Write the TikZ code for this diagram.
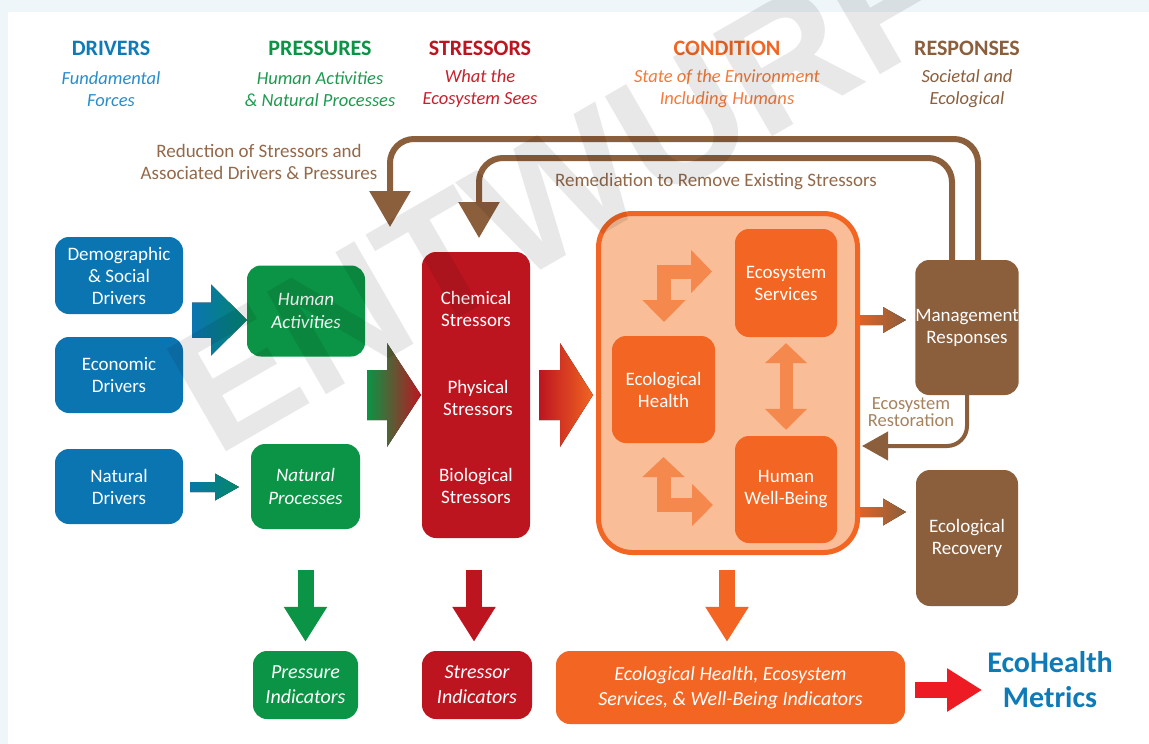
\documentclass[tikz,border=0pt]{standalone}
\usepackage{fontspec}
\setmainfont{Carlito}
\newfontfamily\markfont{Liberation Sans}
\usepackage{tikz}
\usetikzlibrary{arrows.meta,calc}
\usepackage{xcolor}

\definecolor{framebg}{HTML}{EEF6FA}
\definecolor{drvblue}{HTML}{0B75B1}
\definecolor{hdblue}{HTML}{0E7BB8}
\definecolor{subblue}{HTML}{2A8DCB}
\definecolor{prsgreen}{HTML}{0B9445}
\definecolor{subgreen}{HTML}{1E9A50}
\definecolor{strred}{HTML}{BD1520}
\definecolor{subred}{HTML}{C8202E}
\definecolor{cndorange}{HTML}{F26522}
\definecolor{suborange}{HTML}{F47A3A}
\definecolor{cndlight}{HTML}{F9BD98}
\definecolor{cndarrow}{HTML}{F5884C}
\definecolor{rspbrown}{HTML}{8B5E3C}
\definecolor{lblbrown}{HTML}{94694A}
\definecolor{rstbrown}{HTML}{A5835F}
\definecolor{metred}{HTML}{ED1C24}

% fat block arrow: style, from, tip, shaft half, head half, head length
\newcommand{\fatarrow}[6]{%
  \fill[#1] let \p1=(#2), \p2=(#3) in
    (\x1,\y2+#4) -- (\x2-#6,\y2+#4) -- (\x2-#6,\y2+#5) -- (\x2,\y2)
    -- (\x2-#6,\y2-#5) -- (\x2-#6,\y2-#4) -- (\x1,\y2-#4) -- cycle;}

\tikzset{
  box/.style={rounded corners=14pt, inner sep=0pt, align=center, text=white,
    font=\fontsize{19}{22}\selectfont},
  drvbox/.style={box, fill=drvblue, minimum width=128pt},
  prsbox/.style={box, fill=prsgreen, font=\fontsize{19}{23}\selectfont\itshape},
  cndbox/.style={box, fill=cndorange, minimum width=102pt, minimum height=107pt},
  rspbox/.style={box, fill=rspbrown, minimum width=102pt, minimum height=135pt},
  indbox/.style={box, minimum height=68pt, font=\fontsize{20}{25}\selectfont\itshape},
  strtext/.style={text=white, align=center, font=\fontsize{19}{22}\selectfont},
  head/.style={font=\fontsize{22}{24}\selectfont\bfseries},
  sub/.style={align=center, font=\fontsize{18.5}{22}\selectfont\itshape},
  fback/.style={rspbrown, line width=6pt, rounded corners=24pt,
    -{Triangle[length=36pt,width=40pt]}},
  cndflow/.style={cndarrow, line width=14pt},
  dnarrow/.style={line width=16pt, -{Triangle[length=35pt,width=41pt]}},
}

\begin{document}
\begin{tikzpicture}[x=1pt, y=-1pt]
    \useasboundingbox (0,0) rectangle (1149,744);
    \fill[framebg] (0,0) rectangle (1149,744);
    \fill[white] (8,12) rectangle (1149,744);

    % column headings
    \node[head, text=hdblue] (hdrv) at (111,48) {DRIVERS};
    \node[sub, text=subblue] (sdrv) at (111,89) {Fundamental\\Forces};
    \node[head, text=prsgreen] (hprs) at (320,48) {PRESSURES};
    \node[sub, text=subgreen] (sprs) at (320,89) {Human Activities\\\& Natural Processes};
    \node[head, text=strred] (hstr) at (480,48) {STRESSORS};
    \node[sub, text=subred] (sstr) at (480,89) {What the\\Ecosystem Sees};
    \node[head, text=cndorange] (hcnd) at (727,48) {CONDITION};
    \node[sub, text=suborange] (scnd) at (727,89) {State of the Environment\\Including Humans};
    \node[head, text=rspbrown] (hrsp) at (967,48) {RESPONSES};
    \node[sub, text=rspbrown] (srsp) at (967,89) {Societal and\\Ecological};

    % drivers and pressures
    \node[drvbox, minimum height=77pt] (demog) at (119,275.5) {Demographic\\\& Social\\Drivers};
    \node[drvbox, minimum height=76pt] (econ) at (119,375) {Economic\\Drivers};
    \node[drvbox, minimum height=75pt] (natdrv) at (119,486.5) {Natural\\Drivers};
    \node[prsbox, minimum width=118pt, minimum height=91pt] (human) at (306,311) {Human\\Activities};
    \node[prsbox, minimum width=109pt, minimum height=85pt] (natproc) at (305.5,486.5) {Natural\\Processes};

    % stressors
    \node[box, fill=strred, minimum width=108pt, minimum height=286pt] (stress) at (476,395) {};
    \node[strtext] (chem) at (476,309) {Chemical\\Stressors};
    \node[strtext] (phys) at (478,398) {Physical\\Stressors};
    \node[strtext] (bio) at (476,486) {Biological\\Stressors};

    % condition
    \node[draw=cndorange, line width=5pt, fill=cndlight, rounded corners=34pt,
      minimum width=259pt, minimum height=339pt] (cond) at (728,383) {};
    \node[cndbox, minimum height=108pt] (ecoserv) at (786,283) {Ecosystem\\Services};
    \node[cndbox, minimum width=103pt] (ecohlth) at (663.5,389.5) {Ecological\\Health};
    \node[cndbox] (wellb) at (786,489.5) {Human\\Well-Being};

    % responses
    \node[rspbox] (mgmt) at (967,327.5) {Management\\Responses};
    \node[rspbox, minimum height=136pt] (recov) at (967,538) {Ecological\\Recovery};

    % indicators
    \node[indbox, fill=prsgreen, minimum width=105pt] (pind) at (305.5,685) {Pressure\\Indicators};
    \node[indbox, fill=strred, minimum width=110pt] (sind) at (477,685) {Stressor\\Indicators};
    \node[indbox, fill=cndorange, minimum width=349pt, minimum height=73pt] (cind) at (730.5,687.5)
      {Ecological Health, Ecosystem\\Services, \& Well-Being Indicators};
    \node[inner sep=0pt, align=center, text=hdblue, font=\fontsize{30}{35}\selectfont\bfseries]
      (metrics) at (1050,680) {EcoHealth\\Metrics};

    % fat arrows between columns
    \coordinate (a1s) at (192,320);   \coordinate (a1t) at (247,320);
    \coordinate (a2s) at (190,487);   \coordinate (a2t) at (239,487);
    \coordinate (a3s) at (367,395);   \coordinate (a3t) at (421,395);
    \coordinate (a4s) at (539,395);   \coordinate (a4t) at (593,395);
    \coordinate (a5s) at (860,320);   \coordinate (a5t) at (906,320);
    \coordinate (a6s) at (860,512);   \coordinate (a6t) at (906,512);
    \fatarrow{left color=drvblue, right color=teal!75!prsgreen}{a1s}{a1t}{17.5pt}{35.5pt}{36pt}
    \fatarrow{left color=drvblue!80!teal, right color=teal!60!prsgreen}{a2s}{a2t}{5pt}{13.5pt}{24pt}
    \fatarrow{left color=prsgreen, middle color=rspbrown!90!prsgreen, right color=strred}{a3s}{a3t}{25pt}{52pt}{34pt}
    \fatarrow{left color=strred, right color=cndorange}{a4s}{a4t}{25pt}{52pt}{33pt}
    \fatarrow{left color=cndorange!80!rspbrown, right color=rspbrown}{a5s}{a5t}{5pt}{13pt}{23pt}
    \fatarrow{left color=cndorange!80!rspbrown, right color=rspbrown}{a6s}{a6t}{5pt}{13.5pt}{23pt}

    % flows inside the condition box
    \coordinate (t1d) at (664,322);  \coordinate (t1r) at (712,271.5);
    \coordinate (t2u) at (663.5,457); \coordinate (t2r) at (713,505);
    \draw[cndflow, {Triangle[length=22pt,width=42pt]}-{Triangle[length=21pt,width=42pt]}] (t1d) |- (t1r);
    \draw[cndflow, {Triangle[length=20pt,width=41pt]}-{Triangle[length=21pt,width=41pt]}] (t2u) |- (t2r);
    \draw[cndflow, line width=13pt, {Triangle[length=20pt,width=41pt]}-{Triangle[length=21pt,width=41pt]}]
      ([yshift=-6pt]ecoserv.south) -- ([yshift=6pt]wellb.north);

    % feedback loops
    \coordinate (fb1c) at (390,139);  \coordinate (fb1t) at (390,227);
    \coordinate (fb2c) at (479,158);  \coordinate (fb2t) at (479,238);
    \coordinate (rstt) at (862,446);
    \draw[fback] ([xshift=11pt]mgmt.north) |- (fb1c) -- (fb1t);
    \draw[fback] ([xshift=-15pt]mgmt.north) |- (fb2c) -- (fb2t);
    \draw[fback, line width=4pt, rounded corners=20pt, -{Triangle[length=26pt,width=28pt]}]
      (mgmt.south) |- (rstt);
    \node[align=center, text=lblbrown, font=\fontsize{19}{22}\selectfont] (redlbl) at (259,162)
      {Reduction of Stressors and\\Associated Drivers \& Pressures};
    \node[text=lblbrown, font=\fontsize{19}{22}\selectfont] (remlbl) at (716,182)
      {Remediation to Remove Existing Stressors};
    \node[align=center, text=rstbrown, inner sep=0pt, font=\fontsize{18.5}{16.5}\selectfont] (rstlbl) at (911,412)
      {Ecosystem\\Restoration};

    % down to the indicators
    \draw[dnarrow, prsgreen, shorten <=41pt, shorten >=9pt] (natproc.south) -- (natproc.south |- pind.north);
    \draw[dnarrow, strred, shorten <=32pt, shorten >=9pt] ([xshift=-2pt]stress.south) -- ([xshift=-2pt]stress.south |- sind.north);
    \draw[dnarrow, cndorange, shorten <=15pt, shorten >=9pt] ([xshift=-1pt]cond.south) -- ([xshift=-1pt]cond.south |- cind.north);
    \draw[dnarrow, metred, shorten <=10pt, shorten >=5pt] ([yshift=-2.5pt]cind.east) -- ([yshift=-2.5pt]cind.east -| metrics.west);

    % draft watermark
    \node[text=black, text opacity=0.09, rotate=30, inner sep=0pt,
      font=\markfont\bfseries\fontsize{172}{172}\selectfont] (mark) at (560,192) {ENTWURF};
\end{tikzpicture}
\end{document}
